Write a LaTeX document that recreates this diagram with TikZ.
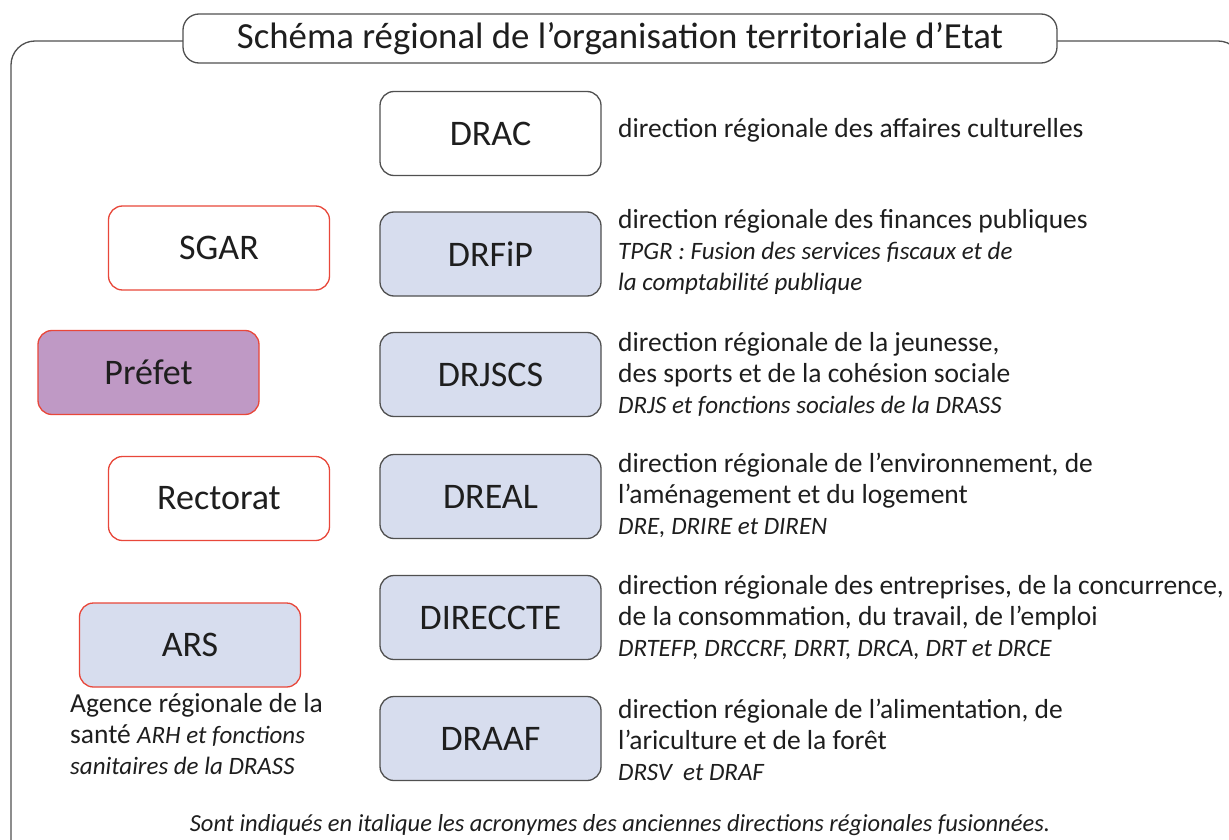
\documentclass[tikz,border=0pt]{standalone}
\usepackage{fontspec}
\setmainfont{Carlito}
\definecolor{txt}{HTML}{1E1E1E}
\definecolor{boxgray}{HTML}{505050}
\definecolor{bluefill}{HTML}{D7DDEE}
\definecolor{purplefill}{HTML}{BF99C5}
\definecolor{redline}{HTML}{E8473A}
\newcommand{\ital}[1]{{\fontsize{25}{31}\selectfont\itshape #1}}
\begin{document}
\begin{tikzpicture}[x=1pt,y=-1pt,
  every node/.style={text=txt},
  dirbox/.style={draw=boxgray, line width=1.3pt, rounded corners=14pt, minimum width=221pt, minimum height=84pt, font=\fontsize{36}{40}\selectfont, inner sep=0pt},
  leftbox/.style={dirbox, draw=redline},
  desc/.style={anchor=west, align=left, inner sep=0pt, font=\fontsize{27.5}{31}\selectfont}
]
\useasboundingbox (0,0) rectangle (1229,840);
\clip (0,0) rectangle (1229,840);
\fill[white] (0,0) rectangle (1229,840);
% outer frame
\draw[boxgray, line width=1.3pt, rounded corners=24pt] (11,860) -- (11,41) -- (1242,41) -- (1242,860);
% title
\node[draw=boxgray, fill=white, line width=1.3pt, rounded corners=16pt, minimum width=874pt, minimum height=49pt, inner sep=0pt, font=\fontsize{36.8}{40}\selectfont] (title) at (620,38.5) {Schéma régional de l’organisation territoriale d’Etat};

% middle column
\node[dirbox, fill=white] (drac) at (490.5,133.5) {DRAC};
\node[dirbox, fill=bluefill] (drfip) at (490.5,254) {DRFiP};
\node[dirbox, fill=bluefill] (drjscs) at (490.5,374.5) {DRJSCS};
\node[dirbox, fill=bluefill] (dreal) at (490.5,496.5) {DREAL};
\node[dirbox, fill=bluefill] (direccte) at (490.5,617.5) {DIRECCTE};
\node[dirbox, fill=bluefill] (draaf) at (490.5,738.5) {DRAAF};

% left column
\node[leftbox, fill=white] (sgar) at (219,248) {SGAR};
\node[leftbox, fill=purplefill] (prefet) at (148.5,372.5) {Préfet};
\node[leftbox, fill=white] (rectorat) at (219,498.5) {Rectorat};
\node[leftbox, fill=bluefill] (ars) at (190,645) {ARS};
\node[desc, anchor=north west] (arstxt) at (70,693) {Agence régionale de la\\santé \ital{ARH et fonctions}\\\ital{sanitaires de la DRASS}};

% descriptions
\node[desc] (dracd) at (618,130) {direction régionale des affaires culturelles};
\node[desc] (drfipd) at (618,252) {direction régionale des finances publiques\\\ital{TPGR : Fusion des services fiscaux et de}\\\ital{la comptabilité publique}};
\node[desc] (drjscsd) at (618,374) {direction régionale de la jeunesse,\\des sports et de la cohésion sociale\\\ital{DRJS et fonctions sociales de la DRASS}};
\node[desc] (dreald) at (618,495) {direction régionale de l’environnement, de\\l’aménagement et du logement\\\ital{DRE, DRIRE et DIREN}};
\node[desc] (direcctd) at (618,618) {direction régionale des entreprises, de la concurrence,\\de la consommation, du travail, de l’emploi\\\ital{DRTEFP, DRCCRF, DRRT, DRCA, DRT et DRCE}};
\node[desc] (draafd) at (618,740) {direction régionale de l’alimentation, de\\l’ariculture et de la forêt\\\ital{DRSV\ \ et DRAF}};

% footer
\node[inner sep=0pt, font=\fontsize{24.5}{28}\selectfont\itshape] (foot) at (620,825) {Sont indiqués en italique les acronymes des anciennes directions régionales fusionnées.};
\end{tikzpicture}
\end{document}
